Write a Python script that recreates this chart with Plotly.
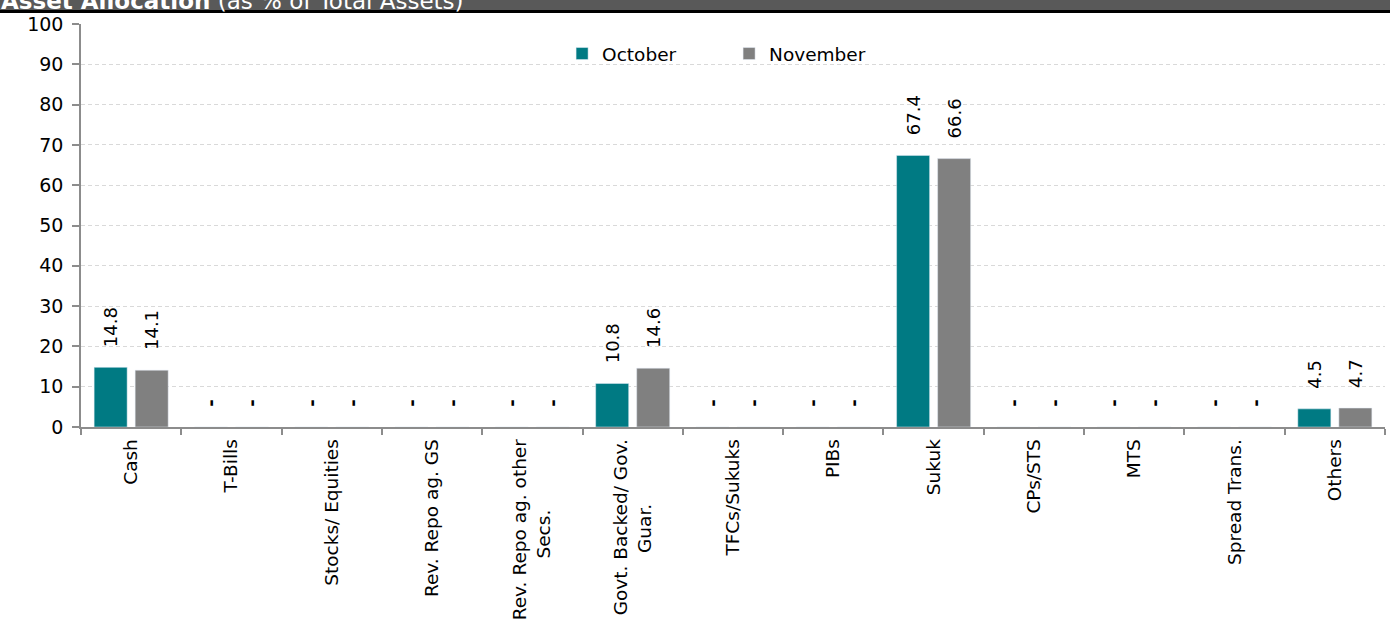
import plotly.graph_objects as go

# Asset allocation of the fund, as % of total assets
categories = [
    "Cash", "T-Bills", "Stocks/ Equities", "Rev. Repo ag. GS",
    "Rev. Repo ag. other<br>Secs." + "\u00a0" * 12,
    "Govt. Backed/ Gov.<br>Guar." + "\u00a0" * 11,
    "TFCs/Sukuks", "PIBs", "Sukuk", "CPs/STS", "MTS", "Spread Trans.", "Others",
]
october = [14.8, 0, 0, 0, 0, 10.8, 0, 0, 67.4, 0, 0, 0, 4.5]
november = [14.1, 0, 0, 0, 0, 14.6, 0, 0, 66.6, 0, 0, 0, 4.7]

y_ticks = list(range(0, 101, 10))

FONT = "DejaVu Sans"
TEAL = "#007A83"
GREY = "#808080"
AXIS = "#8C8C8C"
PAD = "\u00a0" * 3


def labels(values):
    # zero entries are shown as a dash, the rest with one decimal
    return [PAD + ("<b>-</b>" if v == 0 else f"{v:.1f}") for v in values]


W, H = 1390, 624
ML, MR, MT, MB = 81, 5, 24, 197
plot_w = W - ML - MR
plot_h = H - MT - MB


def px_to_paper_y(py):
    return (H - MB - py) / plot_h


def px_to_paper_x(px):
    return (px - ML) / plot_w


fig = go.Figure()
for name, vals, color in (("October", october, TEAL), ("November", november, GREY)):
    fig.add_trace(go.Bar(
        name=name, x=categories, y=vals, marker_color=color,
        text=labels(vals), textposition="outside", textangle=-90,
        constraintext="none", cliponaxis=False,
        textfont=dict(family=FONT, size=18, color="#000000"),
    ))

# header band with the chart title
fig.add_shape(type="rect", xref="paper", yref="paper",
              x0=px_to_paper_x(0), x1=px_to_paper_x(W),
              y0=px_to_paper_y(10), y1=px_to_paper_y(-2),
              fillcolor="#595959", line_width=0, layer="above")
fig.add_shape(type="rect", xref="paper", yref="paper",
              x0=px_to_paper_x(0), x1=px_to_paper_x(W),
              y0=px_to_paper_y(13), y1=px_to_paper_y(10),
              fillcolor="#000000", line_width=0, layer="above")
fig.add_annotation(
    xref="paper", yref="paper", x=px_to_paper_x(0), y=px_to_paper_y(1),
    xanchor="left", yanchor="middle", showarrow=False, borderpad=0,
    text="<b>Asset Allocation</b> (as % of Total Assets)",
    font=dict(family=FONT, size=23, color="#FFFFFF"),
)

fig.update_layout(
    width=W, height=H,
    margin=dict(l=ML, r=MR, t=MT, b=MB, autoexpand=False),
    paper_bgcolor="white", plot_bgcolor="white",
    barmode="group", bargap=0.182, bargroupgap=0.195,
    font=dict(family=FONT, size=18, color="#000000"),
    showlegend=True,
    legend=dict(orientation="h", x=0.497, xanchor="center",
                y=px_to_paper_y(54), yanchor="middle",
                font=dict(family=FONT, size=18.5, color="#000000"),
                bgcolor="rgba(0,0,0,0)", entrywidth=122, itemwidth=30),
)
fig.update_xaxes(
    type="category", tickangle=-90, tickson="boundaries",
    ticks="outside", ticklen=6, tickwidth=1.5, tickcolor=AXIS,
    showline=True, linecolor=AXIS, linewidth=1.5,
    showgrid=False, tickfont=dict(family=FONT, size=18.5, color="#000000"),
    ticklabelstandoff=3,
)
fig.update_yaxes(
    range=[0, 100], tickvals=y_ticks, ticks="outside", ticklen=7,
    tickwidth=1.5, tickcolor=AXIS, showline=True, linecolor=AXIS,
    linewidth=1.5, showgrid=True, gridcolor="#D9D9D9", gridwidth=1,
    griddash="4px,3px", zeroline=False,
    tickfont=dict(family=FONT, size=19, color="#000000"),
    ticklabelstandoff=5,
)

fig.write_html("out.html")
